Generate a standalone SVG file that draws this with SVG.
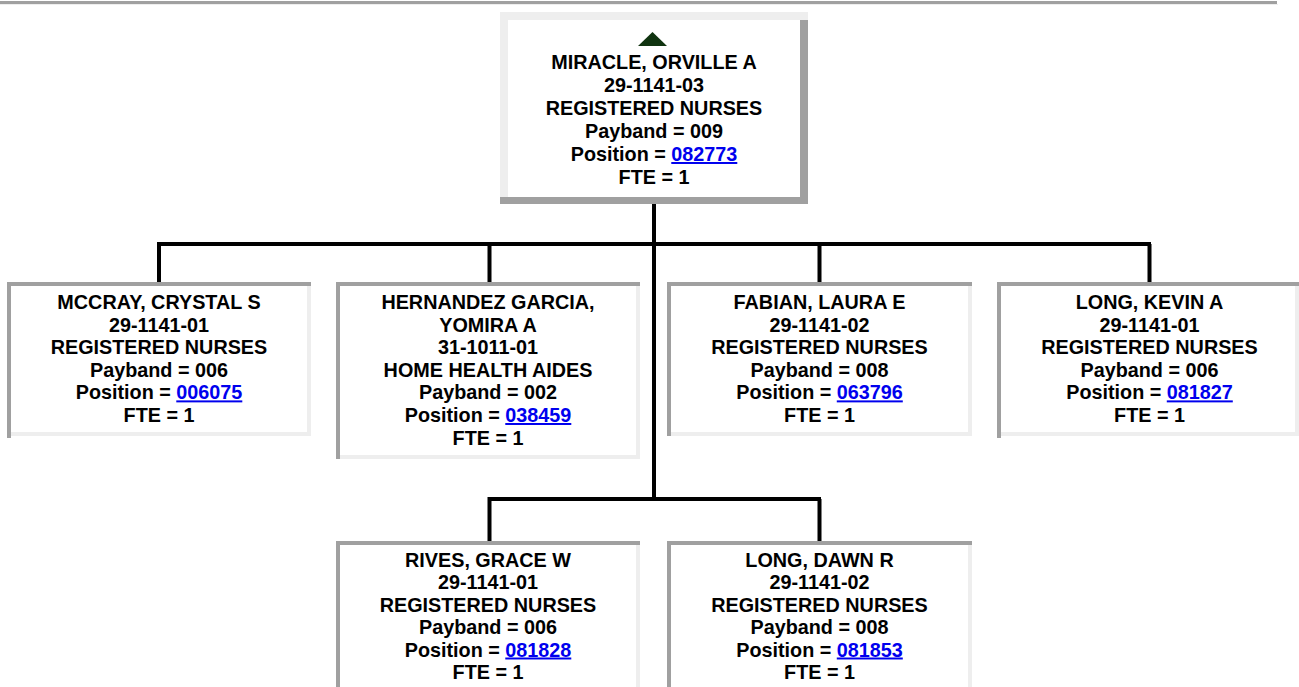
<svg xmlns="http://www.w3.org/2000/svg" width="1299" height="687" viewBox="0 0 1299 687">
<style>
.t{font-family:"Liberation Sans",Arial,sans-serif;font-weight:bold;font-size:19.8px;fill:#000;text-anchor:middle}
.lk{fill:#0000ee;text-decoration:underline}
.dk{fill:#a0a0a0}
.lt{fill:#eeeeee}
.con{stroke:#000;stroke-width:4;fill:none}
</style>
<rect x="0" y="0" width="1299" height="687" fill="#fff"/>
<rect x="0" y="1" width="1277" height="3" class="dk"/>
<rect x="0" y="4" width="1278" height="1" class="lt"/>

<g id="connectors">
<path class="con" d="M654 204V499M159 283V244H1151M489.5 244V283M819.5 244V283M1149.5 244V283M489.5 541V499H821M819.5 499V541"/>
</g>

<g id="node-miracle">
<rect x="500" y="12" width="308" height="192" fill="#fff"/>
<rect x="500" y="12" width="308" height="8" class="lt"/>
<rect x="500" y="12" width="8" height="186" class="lt"/>
<rect x="800" y="20" width="8" height="184" class="dk"/>
<rect x="500" y="197" width="308" height="7" class="dk"/>
<polygon points="652.5,32 638,46 667,46" fill="#103410"/>
<text class="t" x="654" y="69">MIRACLE, ORVILLE A</text>
<text class="t" x="654" y="92">29-1141-03</text>
<text class="t" x="654" y="115">REGISTERED NURSES</text>
<text class="t" x="654" y="138">Payband = 009</text>
<text class="t" x="654" y="161">Position = <tspan class="lk">082773</tspan></text>
<text class="t" x="654" y="184">FTE = 1</text>
</g>

<g id="node-mccray">
<rect x="7" y="282" width="304" height="154" fill="#fff"/>
<rect x="7" y="282" width="304" height="4" class="dk"/>
<rect x="7" y="282" width="4" height="156" class="dk"/>
<rect x="307" y="286" width="4" height="150" class="lt"/>
<rect x="11" y="432" width="300" height="4" class="lt"/>
<text class="t" x="159" y="309">MCCRAY, CRYSTAL S</text>
<text class="t" x="159" y="331.6">29-1141-01</text>
<text class="t" x="159" y="354.2">REGISTERED NURSES</text>
<text class="t" x="159" y="376.8">Payband = 006</text>
<text class="t" x="159" y="399.4">Position = <tspan class="lk">006075</tspan></text>
<text class="t" x="159" y="422">FTE = 1</text>
</g>

<g id="node-hernandez">
<rect x="336" y="282" width="304" height="177" fill="#fff"/>
<rect x="336" y="282" width="304" height="4" class="dk"/>
<rect x="336" y="282" width="4" height="177" class="dk"/>
<rect x="636" y="286" width="4" height="173" class="lt"/>
<rect x="340" y="455" width="300" height="4" class="lt"/>
<text class="t" x="488" y="309">HERNANDEZ GARCIA,</text>
<text class="t" x="488" y="331.6">YOMIRA A</text>
<text class="t" x="488" y="354.2">31-1011-01</text>
<text class="t" x="488" y="376.8">HOME HEALTH AIDES</text>
<text class="t" x="488" y="399.4">Payband = 002</text>
<text class="t" x="488" y="422">Position = <tspan class="lk">038459</tspan></text>
<text class="t" x="488" y="444.6">FTE = 1</text>
</g>

<g id="node-fabian">
<rect x="667" y="282" width="305" height="154" fill="#fff"/>
<rect x="667" y="282" width="305" height="4" class="dk"/>
<rect x="667" y="282" width="4" height="154" class="dk"/>
<rect x="968" y="286" width="4" height="150" class="lt"/>
<rect x="671" y="432" width="301" height="4" class="lt"/>
<text class="t" x="819.5" y="309">FABIAN, LAURA E</text>
<text class="t" x="819.5" y="331.6">29-1141-02</text>
<text class="t" x="819.5" y="354.2">REGISTERED NURSES</text>
<text class="t" x="819.5" y="376.8">Payband = 008</text>
<text class="t" x="819.5" y="399.4">Position = <tspan class="lk">063796</tspan></text>
<text class="t" x="819.5" y="422">FTE = 1</text>
</g>

<g id="node-long-kevin">
<rect x="997" y="282" width="302" height="154" fill="#fff"/>
<rect x="997" y="282" width="302" height="4" class="dk"/>
<rect x="997" y="282" width="4" height="156" class="dk"/>
<rect x="1295" y="286" width="4" height="150" class="lt"/>
<rect x="1001" y="432" width="298" height="4" class="lt"/>
<text class="t" x="1149.5" y="309">LONG, KEVIN A</text>
<text class="t" x="1149.5" y="331.6">29-1141-01</text>
<text class="t" x="1149.5" y="354.2">REGISTERED NURSES</text>
<text class="t" x="1149.5" y="376.8">Payband = 006</text>
<text class="t" x="1149.5" y="399.4">Position = <tspan class="lk">081827</tspan></text>
<text class="t" x="1149.5" y="422">FTE = 1</text>
</g>

<g id="node-rives">
<rect x="336" y="541" width="304" height="146" fill="#fff"/>
<rect x="336" y="541" width="304" height="4" class="dk"/>
<rect x="336" y="541" width="4" height="146" class="dk"/>
<rect x="636" y="545" width="4" height="142" class="lt"/>
<text class="t" x="488" y="566.5">RIVES, GRACE W</text>
<text class="t" x="488" y="589">29-1141-01</text>
<text class="t" x="488" y="611.5">REGISTERED NURSES</text>
<text class="t" x="488" y="634">Payband = 006</text>
<text class="t" x="488" y="656.5">Position = <tspan class="lk">081828</tspan></text>
<text class="t" x="488" y="679">FTE = 1</text>
</g>

<g id="node-long-dawn">
<rect x="667" y="541" width="305" height="146" fill="#fff"/>
<rect x="667" y="541" width="305" height="4" class="dk"/>
<rect x="667" y="541" width="4" height="146" class="dk"/>
<rect x="968" y="545" width="4" height="142" class="lt"/>
<text class="t" x="819.5" y="566.5">LONG, DAWN R</text>
<text class="t" x="819.5" y="589">29-1141-02</text>
<text class="t" x="819.5" y="611.5">REGISTERED NURSES</text>
<text class="t" x="819.5" y="634">Payband = 008</text>
<text class="t" x="819.5" y="656.5">Position = <tspan class="lk">081853</tspan></text>
<text class="t" x="819.5" y="679">FTE = 1</text>
</g>
</svg>
